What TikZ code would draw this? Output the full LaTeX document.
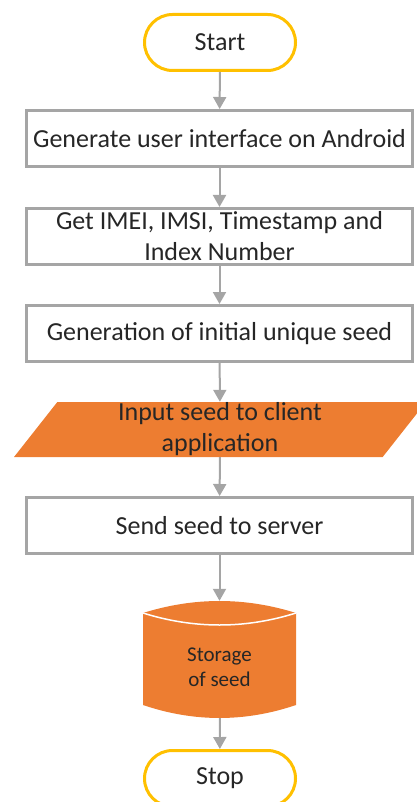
\documentclass[tikz,border=0pt]{standalone}
\usepackage{fontspec}
\setmainfont{Carlito}
\usetikzlibrary{shapes.geometric,arrows.meta}

\definecolor{termyellow}{HTML}{FFC000}
\definecolor{boxgray}{HTML}{A5A5A5}
\definecolor{seedorange}{HTML}{ED7D31}
\definecolor{txtgray}{HTML}{262626}

\begin{document}
\begin{tikzpicture}[x=1pt,y=-1pt,>={Triangle[length=12pt,width=13pt]},
  font=\fontsize{26}{31}\selectfont, text=txtgray,
  term/.style={draw=termyellow, line width=3pt, fill=white, rounded corners=28pt,
    minimum width=151pt, minimum height=56pt},
  procbox/.style={draw=boxgray, line width=3pt, fill=white, align=center,
    minimum width=386pt, minimum height=56pt, inner sep=2pt},
  iobox/.style={trapezium, trapezium left angle=63, trapezium right angle=117,
    trapezium stretches=true, fill=seedorange, align=center,
    minimum width=412pt, minimum height=55pt, inner sep=0pt},
  flow/.style={->, draw=boxgray, line width=2pt}]

  % page
  \useasboundingbox (0,0) rectangle (416,802);

%%%%%%%%%%%%%%%%%%%%%%%%%%%%%%%%%%%%%%%%%%
  % Nodes
  \node[term] (start) at (220,42.5) {Start};
  \node[procbox] (gen) at (219.5,138.5) {Generate user interface on Android};
  \node[procbox] (ids) at (219.5,236.5) {Get IMEI, IMSI, Timestamp and\\Index Number};
  \node[procbox] (seed) at (219.5,333.5) {Generation of initial unique seed};
  \node[iobox] (input) at (220,429.5) {Input seed to client\\application};
  \node[procbox] (send) at (219.5,525.5) {Send seed to server};

  % Storage (drawn by hand)
  \fill[seedorange, shift={(219.5,659.5)}]
    (-76.5,-46.5) .. controls (-25.5,-62.5) and (25.5,-62.5) .. (76.5,-46.5)
    -- (76.5,45.5) .. controls (25.5,62.8) and (-25.5,62.8) .. (-76.5,45.5) -- cycle;
  \draw[white, line width=1.5pt, shift={(219.5,659.5)}]
    (-76.5,-46.5) .. controls (-25.5,-30.5) and (25.5,-30.5) .. (76.5,-46.5);
  \node[minimum width=153pt, minimum height=117pt, inner sep=0pt, align=center,
    text height=54pt, font=\fontsize{21}{25}\selectfont] (store) at (219.5,659.5)
    {Storage\\of seed};

  \node[term] (stop) at (220,778.5) {Stop};

%%%%%%%%%%%%%%%%%%%%%%%%%%%%%%%%%%%%%%%%%%
  % Connectors
  \draw[flow] (start) -- (gen);
  \draw[flow] (gen) -- (ids);
  \draw[flow] (ids) -- (seed);
  \draw[flow] (seed) -- (input);
  \draw[flow] (input) -- (send);
  \draw[flow] (send) -- (store);
  \draw[flow] (store) -- (stop);

\end{tikzpicture}
\end{document}
